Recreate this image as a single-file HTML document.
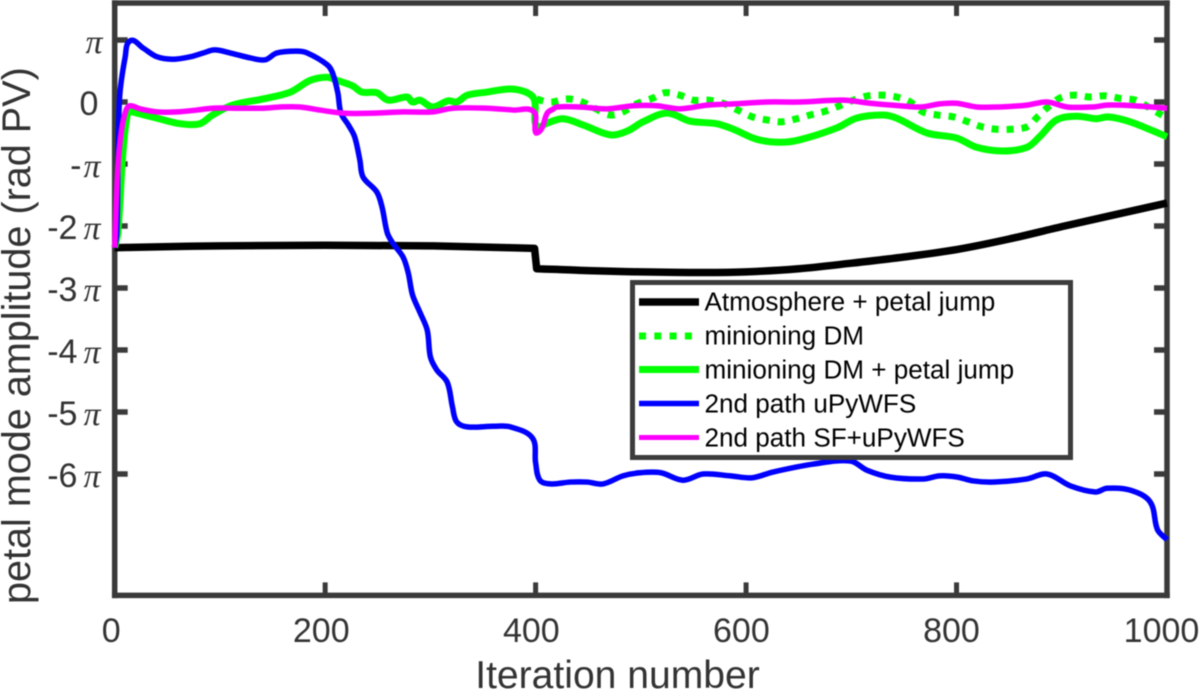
<!DOCTYPE html>
<html>
<head>
<meta charset="utf-8">
<title>Petal mode amplitude</title>
<style>
html,body{margin:0;padding:0;background:#fff;width:1200px;height:692px;overflow:hidden}
svg{display:block;font-family:"Liberation Sans",sans-serif;filter:blur(0.4px)}
</style>
</head>
<body>
<svg id="chart" xmlns="http://www.w3.org/2000/svg" width="1200" height="692" viewBox="0 0 1200 692">
  <rect x="0" y="0" width="1200" height="692" fill="#fff"/>
  <g id="axes"></g>
  <g id="series"></g>
  <text x="617.5" y="688" font-size="39.1" fill="#333" text-anchor="middle">Iteration number</text>
  <text transform="translate(30,604) rotate(-90)" font-size="39.6" fill="#333">petal mode amplitude (rad PV)</text>
  <g>
    <rect x="632.5" y="282.5" width="438" height="175" fill="#fff" stroke="#3c3c3c" stroke-width="5"/>
    <g>
      <line x1="639" y1="302" x2="699" y2="302" stroke="#000" stroke-width="7.5"/>
      <text x="704.5" y="310.5" font-size="26.1" fill="#000">Atmosphere + petal jump</text>
    </g>
    <g>
      <line x1="639" y1="336" x2="699" y2="336" stroke="#00ff00" stroke-width="7" stroke-dasharray="7 8.3"/>
      <text x="704.5" y="344.5" font-size="26.1" fill="#000">minioning DM</text>
    </g>
    <g>
      <line x1="639" y1="369.5" x2="699" y2="369.5" stroke="#00ff00" stroke-width="7"/>
      <text x="704.5" y="378.5" font-size="26.1" fill="#000">minioning DM + petal jump</text>
    </g>
    <g>
      <line x1="639" y1="403.5" x2="699" y2="403.5" stroke="#0000ff" stroke-width="5.5"/>
      <text x="704.5" y="412.5" font-size="26.1" fill="#000">2nd path uPyWFS</text>
    </g>
    <g>
      <line x1="639" y1="437.5" x2="699" y2="437.5" stroke="#ff00ff" stroke-width="5"/>
      <text x="704.5" y="446.5" font-size="26.1" fill="#000">2nd path SF+uPyWFS</text>
    </g>
  </g>
</svg>
<script>
const xTickValues = [0, 200, 400, 600, 800, 1000];
const yTickValues = [1, 0, -1, -2, -3, -4, -5, -6];
const yTickNumbers = ['', '0', '-', '-2', '-3', '-4', '-5', '-6'];

const atmosphereX = [0,100,200,300,399,401,420,450,500,560,600,650,700,750,800,850,900,950,1000];
const atmosphereY = [-2.35,-2.32,-2.31,-2.32,-2.36,-2.69,-2.70,-2.72,-2.74,-2.75,-2.74,-2.69,-2.60,-2.50,-2.38,-2.21,-2.01,-1.82,-1.63];

const dmX = [401,404,415,430,444,456,471,483,496,511,523,537,550,564,578,592,606,620,634,648,661,675,689,702,716,730,743,756,768,782,797,811,824,838,852,867,877,887,900,913,927,941,955,970,982,995,1000];
const dmY = [0.05,0.03,0,0.05,0,-0.10,-0.21,-0.16,-0.03,0.06,0.15,0.11,0.03,0.03,-0.02,-0.13,-0.24,-0.29,-0.32,-0.27,-0.21,-0.15,-0.06,0.03,0.10,0.11,0.08,0,-0.16,-0.21,-0.24,-0.32,-0.40,-0.44,-0.44,-0.40,-0.24,-0.08,0.08,0.11,0.08,0.10,0.06,0.03,-0.08,-0.21,-0.26];

const dmJumpX = [0,3,8,13,17,40,62,81,93,112,141,167,186,202,211,226,235,249,260,278,283,290,302,317,325,335,354,376,392,399,401,411,426,445,471,487,502,525,547,572,588,610,632,651,686,705,730,743,772,800,819,844,867,879,895,914,933,944,965,1000];
const dmJumpY = [-2.35,-2.11,-0.77,-0.13,-0.16,-0.26,-0.35,-0.35,-0.21,-0.05,0.05,0.16,0.35,0.40,0.35,0.26,0.16,0.15,0.03,0.08,0,0.03,-0.08,0.02,0,0.11,0.16,0.21,0.15,0.03,-0.40,-0.34,-0.27,-0.37,-0.53,-0.47,-0.32,-0.18,-0.31,-0.35,-0.44,-0.60,-0.65,-0.61,-0.42,-0.26,-0.21,-0.26,-0.50,-0.58,-0.73,-0.79,-0.73,-0.56,-0.29,-0.23,-0.27,-0.24,-0.32,-0.56];

const upyX = [0,2,4.5,10,15,27,40,55,72,84,95,110,129,143,154,173,183,202,207,212,215,222,228,233,236,249,254,259,264,274,279,283,290,297,300,306,316,321,325,335,360,376,397,400,404,414,433,449,464,483,499,519,540,559,585,606,625,664,699,715,737,768,784,801,815,836,867,886,908,932,943,965,984,991,1000];
const upyY = [-2.35,-2.11,0.03,0.73,0.99,0.87,0.73,0.69,0.73,0.79,0.84,0.79,0.71,0.68,0.79,0.82,0.79,0.60,0.47,0.15,-0.18,-0.37,-0.56,-0.94,-1.21,-1.45,-1.69,-2.11,-2.27,-2.50,-2.76,-3.11,-3.39,-3.68,-4.11,-4.32,-4.52,-4.92,-5.16,-5.24,-5.23,-5.24,-5.42,-5.82,-6.10,-6.16,-6.13,-6.13,-6.16,-6.03,-5.98,-5.98,-6.10,-6.00,-6.03,-6.06,-5.97,-5.84,-5.79,-5.94,-6.05,-6.08,-6.03,-6.05,-6.11,-6.13,-6.08,-6.00,-6.19,-6.29,-6.23,-6.26,-6.45,-6.90,-7.06];

const sfX = [0,3,6.5,11,15,24,40,59,78,93,119,141,157,176,195,217,246,274,302,321,354,379,398,399.5,401,406,411,417,420,442,468,493,515,537,563,588,620,651,692,718,746,767,784,800,819,841,867,886,905,930,943,968,1000];
const sfY = [-2.35,-1.05,-0.45,-0.12,-0.06,-0.11,-0.16,-0.16,-0.13,-0.10,-0.10,-0.10,-0.08,-0.08,-0.13,-0.18,-0.18,-0.16,-0.16,-0.10,-0.10,-0.13,-0.15,-0.45,-0.50,-0.42,-0.18,-0.11,-0.08,-0.08,-0.11,-0.06,-0.06,-0.11,-0.05,-0.03,0,0,0.03,-0.02,-0.06,-0.08,-0.03,-0.02,-0.08,-0.08,-0.05,0,-0.08,-0.08,-0.05,-0.06,-0.10];

const atmosphereBreakIndex = 5;

const NS = 'http://www.w3.org/2000/svg';
const frameColor = '#3a3a3a';
const PX_LEFT = 114.7, PX_PER_ITER = 1.0523;
const PX_ZERO = 102, PX_PER_PI = 62;
function xScale(i) { return PX_LEFT + PX_PER_ITER * i; }
function yScale(v) { return PX_ZERO - PX_PER_PI * v; }
const frameLeft = xScale(0), frameRight = xScale(1000), frameTop = 3, frameBottom = 595.4;

function smoothPath(xs, ys) {
  const p = xs.map((x, i) => [xScale(x), yScale(ys[i])]);
  const dist = (a, b) => Math.hypot(b[0] - a[0], b[1] - a[1]) || 1;
  let d = 'M' + p[0][0].toFixed(2) + ' ' + p[0][1].toFixed(2);
  for (let i = 0; i < p.length - 1; i++) {
    const a = p[Math.max(i - 1, 0)], b = p[i], c = p[i + 1], e = p[Math.min(i + 2, p.length - 1)];
    const seg = dist(b, c) / 3;
    const d1 = dist(a, c), d2 = dist(b, e);
    d += 'C' + (b[0] + (c[0] - a[0]) / d1 * seg).toFixed(2) + ' ' + (b[1] + (c[1] - a[1]) / d1 * seg).toFixed(2) + ' '
       + (c[0] - (e[0] - b[0]) / d2 * seg).toFixed(2) + ' ' + (c[1] - (e[1] - b[1]) / d2 * seg).toFixed(2) + ' '
       + c[0].toFixed(2) + ' ' + c[1].toFixed(2);
  }
  return d;
}

const axes = document.getElementById('axes');
const seriesGroup = document.getElementById('series');

function makeLine(x1, y1, x2, y2, w) {
  const l = document.createElementNS(NS, 'line');
  l.setAttribute('x1', x1);
  l.setAttribute('y1', y1);
  l.setAttribute('x2', x2);
  l.setAttribute('y2', y2);
  l.setAttribute('stroke', frameColor);
  l.setAttribute('stroke-width', w);
  return l;
}

xTickValues.forEach(function (v) {
  const px = xScale(v);
  if (v > 0 && v < 1000) {
    const b = makeLine(px, frameBottom, px, frameBottom - 13, 5);
    
    
    axes.appendChild(b);
    const t = makeLine(px, frameTop, px, frameTop + 13, 5);
    
    
    axes.appendChild(t);
  }
  const label = document.createElementNS(NS, 'text');
  
  
  label.setAttribute('x', px - 3.5 - v * 0.002);
  label.setAttribute('y', 642);
  label.setAttribute('font-size', 34);
  label.setAttribute('fill', '#333');
  label.setAttribute('text-anchor', 'middle');
  label.textContent = String(v);
  axes.appendChild(label);
});

yTickValues.forEach(function (v, idx) {
  const py = yScale(v);
  const lt = makeLine(frameLeft, py, frameLeft + 13, py, 5.5);
  
  
  axes.appendChild(lt);
  const rt = makeLine(frameRight, py, frameRight - 13, py, 5.5);
  
  
  axes.appendChild(rt);
  const label = document.createElementNS(NS, 'text');
  
  
  label.setAttribute('y', py + 13);
  label.setAttribute('font-size', 34);
  label.setAttribute('fill', '#333');
  const num = yTickNumbers[idx];
  if (v === 0) {
    label.setAttribute('x', 89);
    label.setAttribute('text-anchor', 'middle');
    label.textContent = '0';
  } else {
    label.setAttribute('x', 100.5);
    label.setAttribute('text-anchor', 'end');
    label.appendChild(document.createTextNode(num));
    const pi = document.createElementNS(NS, 'tspan');
    pi.setAttribute('font-family', '"Liberation Serif",serif');
    pi.setAttribute('font-style', 'italic');
    pi.setAttribute('dx', num.length > 1 ? 6 : 2);
    pi.textContent = '\u03c0';
    label.appendChild(pi);
  }
  axes.appendChild(label);
});

[['left', frameLeft, frameTop, frameLeft, frameBottom],
 ['right', frameRight, frameTop, frameRight, frameBottom],
 ['top', frameLeft, frameTop, frameRight, frameTop],
 ['bottom', frameLeft, frameBottom, frameRight, frameBottom]].forEach(function (s) {
  const sp = makeLine(s[1], s[2], s[3], s[4], 5.5);
  sp.setAttribute('stroke-linecap', 'square');
  
  
  axes.appendChild(sp);
});

function addSeries(d, color, width, dash) {
  const path = document.createElementNS(NS, 'path');
  path.setAttribute('d', d);
  path.setAttribute('fill', 'none');
  path.setAttribute('stroke', color);
  path.setAttribute('stroke-width', width);
  path.setAttribute('stroke-linejoin', 'round');
  if (dash) path.setAttribute('stroke-dasharray', dash);
  seriesGroup.appendChild(path);
  return path;
}

const atmosphereD = smoothPath(atmosphereX.slice(0, atmosphereBreakIndex), atmosphereY.slice(0, atmosphereBreakIndex))
  + smoothPath(atmosphereX.slice(atmosphereBreakIndex), atmosphereY.slice(atmosphereBreakIndex)).replace(/^M/, 'L');
const atmosphereLine = addSeries(atmosphereD, '#000', 7.5);



const dmLine = addSeries(smoothPath(dmX, dmY), '#00ff00', 7, '7 8');



const dmJumpLine = addSeries(smoothPath(dmJumpX, dmJumpY), '#00ff00', 7);



const upyLine = addSeries(smoothPath(upyX, upyY), '#0000ff', 5.5);



const sfLine = addSeries(smoothPath(sfX, sfY), '#ff00ff', 5.5);


</script>
</body>
</html>
